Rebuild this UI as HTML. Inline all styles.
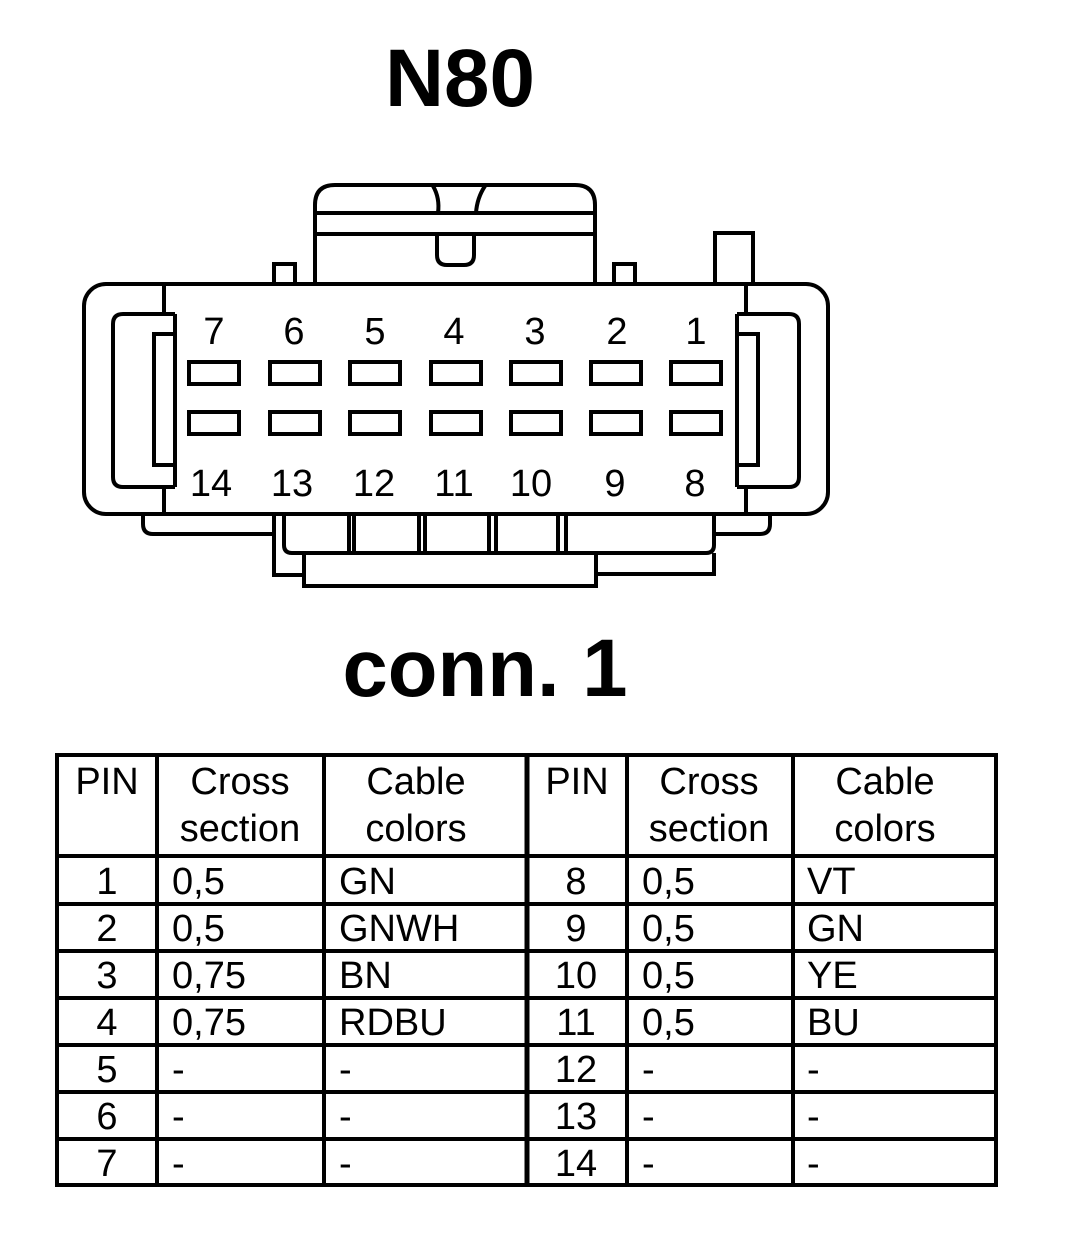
<!DOCTYPE html>
<html><head><meta charset="utf-8"><style>
html,body{margin:0;padding:0;background:#fff;}
svg{display:block;}
text{font-family:"Liberation Sans",Arial,sans-serif;fill:#000;}
</style></head><body>
<svg width="1072" height="1234" viewBox="0 0 1072 1234" xmlns="http://www.w3.org/2000/svg">
<text x="460" y="106" font-size="82" font-weight="bold" text-anchor="middle" textLength="150" lengthAdjust="spacingAndGlyphs">N80</text>
<text x="485" y="696" font-size="82" font-weight="bold" text-anchor="middle" textLength="285" lengthAdjust="spacingAndGlyphs">conn. 1</text>
<g fill="none" stroke="#000" stroke-width="4">
  <path d="M315,283 V205 Q315,185 335,185 H575 Q595,185 595,205 V283"/>
  <line x1="315" y1="213" x2="595" y2="213"/>
  <line x1="315" y1="234" x2="595" y2="234"/>
  <path d="M433,186 Q440,198 438,213"/>
  <path d="M485,186 Q477,198 476,213"/>
  <path d="M437,234 V255 Q437,265 447,265 H464 Q474,265 474,255 V234"/>
  <rect x="274" y="264" width="21" height="20"/>
  <rect x="614" y="264" width="21" height="20"/>
  <rect x="715" y="233" width="38" height="51"/>
  <path d="M143,514 V524 Q143,534 153,534 H275"/>
  <path d="M714,534 H760 Q770,534 770,524 V514"/>
  <path d="M274,514 V575 H304"/>
  <path d="M284,514 V545 Q284,553 292,553 H706 Q714,553 714,545 V514"/>
  <path d="M714,553 V574 H596"/>
  <rect x="304" y="553" width="292" height="33"/>
  <line x1="349" y1="514" x2="349" y2="553"/><line x1="354" y1="514" x2="354" y2="553"/>
  <line x1="419" y1="514" x2="419" y2="553"/><line x1="425" y1="514" x2="425" y2="553"/>
  <line x1="489" y1="514" x2="489" y2="553"/><line x1="496" y1="514" x2="496" y2="553"/>
  <line x1="558" y1="514" x2="558" y2="553"/><line x1="566" y1="514" x2="566" y2="553"/>
  <rect x="84" y="284" width="744" height="230" rx="22" fill="#fff"/>
  <line x1="164" y1="284" x2="164" y2="514"/>
  <line x1="746" y1="284" x2="746" y2="514"/>
  <path d="M175,314 H123 Q113,314 113,324 V477 Q113,487 123,487 H175" fill="#fff"/>
  <rect x="154" y="334" width="21" height="131" fill="#fff"/>
  <path d="M737,314 H789 Q799,314 799,324 V477 Q799,487 789,487 H737" fill="#fff"/>
  <rect x="737" y="334" width="21" height="131" fill="#fff"/>
  <line x1="175" y1="314" x2="175" y2="487"/>
  <line x1="737" y1="314" x2="737" y2="487"/>
  <rect x="189" y="362" width="50" height="22"/><rect x="270" y="362" width="50" height="22"/>
  <rect x="350" y="362" width="50" height="22"/><rect x="431" y="362" width="50" height="22"/>
  <rect x="511" y="362" width="50" height="22"/><rect x="591" y="362" width="50" height="22"/>
  <rect x="671" y="362" width="50" height="22"/>
  <rect x="189" y="412" width="50" height="22"/><rect x="270" y="412" width="50" height="22"/>
  <rect x="350" y="412" width="50" height="22"/><rect x="431" y="412" width="50" height="22"/>
  <rect x="511" y="412" width="50" height="22"/><rect x="591" y="412" width="50" height="22"/>
  <rect x="671" y="412" width="50" height="22"/>
</g>
<g font-size="38" text-anchor="middle">
  <text x="214" y="344">7</text><text x="294" y="344">6</text><text x="375" y="344">5</text><text x="454" y="344">4</text><text x="535" y="344">3</text><text x="617" y="344">2</text><text x="696" y="344">1</text>
  <text x="211" y="496">14</text><text x="292" y="496">13</text><text x="374" y="496">12</text><text x="454" y="496">11</text><text x="531" y="496">10</text><text x="615" y="496">9</text><text x="695" y="496">8</text>
</g>
<g stroke="#000" stroke-width="4" fill="none">
  <rect x="57" y="755" width="939" height="430"/>
  <line x1="157" y1="755" x2="157" y2="1185"/>
  <line x1="324" y1="755" x2="324" y2="1185"/>
  <line x1="527" y1="755" x2="527" y2="1185" stroke-width="5"/>
  <line x1="627" y1="755" x2="627" y2="1185"/>
  <line x1="793" y1="755" x2="793" y2="1185"/>
  <line x1="57" y1="856" x2="996" y2="856"/>
  <line x1="57" y1="904" x2="996" y2="904"/>
  <line x1="57" y1="951" x2="996" y2="951"/>
  <line x1="57" y1="998" x2="996" y2="998"/>
  <line x1="57" y1="1045" x2="996" y2="1045"/>
  <line x1="57" y1="1092" x2="996" y2="1092"/>
  <line x1="57" y1="1139" x2="996" y2="1139"/>
</g>
<g font-size="38">
  <g text-anchor="middle">
    <text x="107" y="794">PIN</text>
    <text x="240" y="794">Cross</text><text x="240" y="841">section</text>
    <text x="416" y="794">Cable</text><text x="416" y="841">colors</text>
    <text x="577" y="794">PIN</text>
    <text x="709" y="794">Cross</text><text x="709" y="841">section</text>
    <text x="885" y="794">Cable</text><text x="885" y="841">colors</text>
    <text x="107" y="894">1</text><text x="107" y="941">2</text><text x="107" y="988">3</text><text x="107" y="1035">4</text><text x="107" y="1082">5</text><text x="107" y="1129">6</text><text x="107" y="1176">7</text>
    <text x="576" y="894">8</text><text x="576" y="941">9</text><text x="576" y="988">10</text><text x="576" y="1035">11</text><text x="576" y="1082">12</text><text x="576" y="1129">13</text><text x="576" y="1176">14</text>
  </g>
  <text x="172" y="894">0,5</text><text x="172" y="941">0,5</text><text x="172" y="988">0,75</text><text x="172" y="1035">0,75</text><text x="172" y="1082">-</text><text x="172" y="1129">-</text><text x="172" y="1176">-</text>
  <text x="339" y="894">GN</text><text x="339" y="941">GNWH</text><text x="339" y="988">BN</text><text x="339" y="1035">RDBU</text><text x="339" y="1082">-</text><text x="339" y="1129">-</text><text x="339" y="1176">-</text>
  <text x="642" y="894">0,5</text><text x="642" y="941">0,5</text><text x="642" y="988">0,5</text><text x="642" y="1035">0,5</text><text x="642" y="1082">-</text><text x="642" y="1129">-</text><text x="642" y="1176">-</text>
  <text x="807" y="894">VT</text><text x="807" y="941">GN</text><text x="807" y="988">YE</text><text x="807" y="1035">BU</text><text x="807" y="1082">-</text><text x="807" y="1129">-</text><text x="807" y="1176">-</text>
</g>
</svg>
</body></html>
